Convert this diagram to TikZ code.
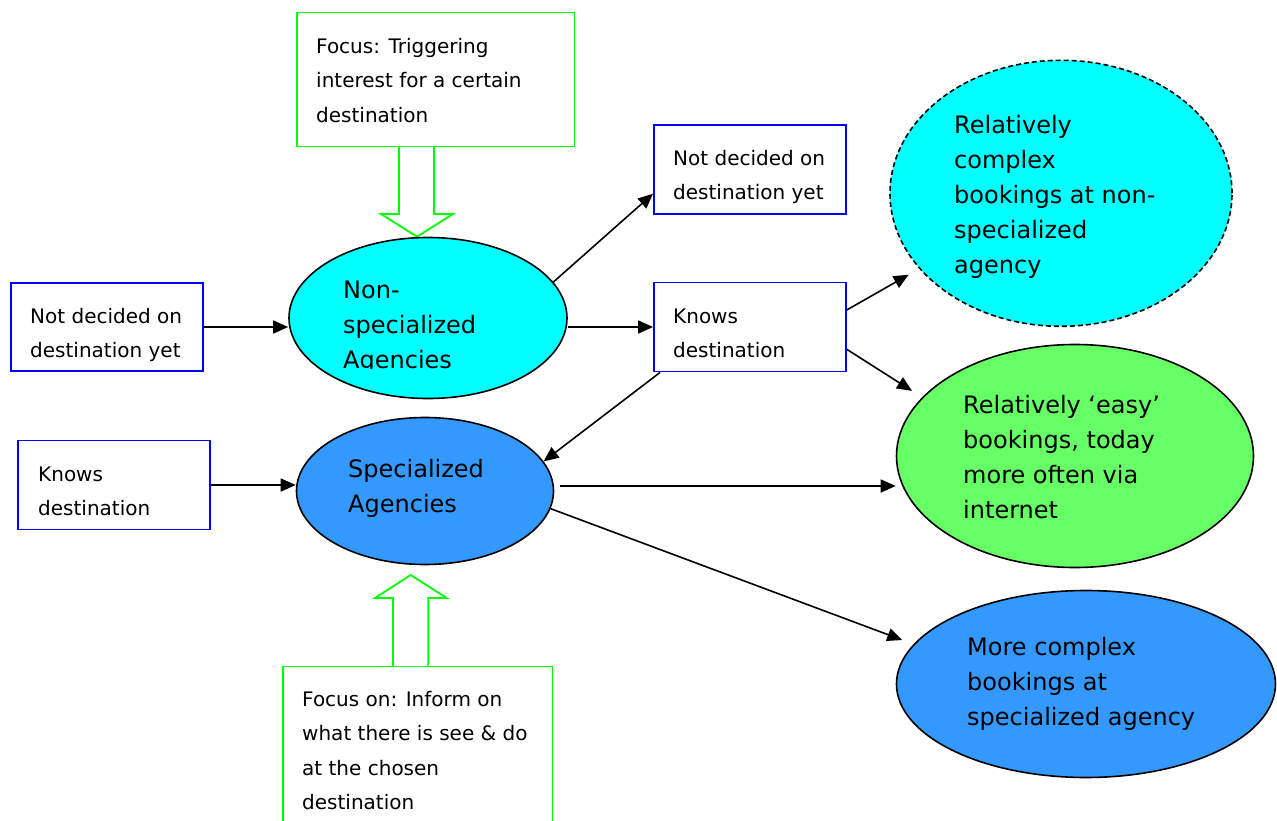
\documentclass[tikz,border=0pt]{standalone}
\usepackage{fontspec}
\setmainfont{DejaVu Sans}
\usetikzlibrary{arrows.meta,calc,shapes.geometric}
\definecolor{cy}{RGB}{0,255,255}
\definecolor{bl}{RGB}{51,153,255}
\definecolor{gr}{RGB}{102,255,102}
\definecolor{bbord}{RGB}{0,0,255}
\definecolor{gbord}{RGB}{0,255,0}
\begin{document}
\begin{tikzpicture}[x=1pt,y=-1pt,
 arr/.style={line width=1.6pt, -{Triangle[length=15pt,width=13pt]}},
 bbox/.style={draw=bbord, line width=1.8pt, rectangle, inner sep=0pt},
 gbox/.style={draw=gbord, line width=1.8pt, rectangle, inner sep=0pt},
 ell/.style={ellipse, draw=black, line width=1.6pt, inner sep=0pt},
 hollow/.style={draw=gbord, line width=1.8pt, fill=white, line join=miter},
 stxt/.style={anchor=north west, inner sep=0pt, align=left, font=\fontsize{20}{34.5}\selectfont},
 btxt/.style={anchor=north west, inner sep=0pt, align=left, font=\fontsize{24}{35}\selectfont},
]
\useasboundingbox[fill=white] (0,0) rectangle (1277,821);

% boxes
\node[bbox, minimum width=192pt, minimum height=88pt] (lnot) at (107,327) {};
\node[bbox, minimum width=192pt, minimum height=89pt] (knl) at (114,485) {};
\node[bbox, minimum width=192pt, minimum height=89pt] (trnot) at (750,169.5) {};
\node[bbox, minimum width=192pt, minimum height=89pt] (kn) at (750,327) {};
\node[gbox, minimum width=277.5pt, minimum height=134pt] (gtop) at (435.7,79.5) {};
\node[gbox, minimum width=269.5pt, minimum height=173pt] (gbot) at (417.7,753) {};

% hollow block arrows
\draw[hollow] (399,147) -- (399,214) -- (381,214) -- (417,236.7) -- (453,214) -- (434,214) -- (434,147);
\draw[hollow] (393,666) -- (393,598) -- (375,598) -- (410.7,575) -- (446.7,598) -- (428.3,598) -- (428.3,666);

% ellipses
\node[ell, fill=cy, minimum width=278pt, minimum height=161pt] (nonspec) at (428,318) {};
\node[ell, fill=bl, minimum width=257pt, minimum height=147pt] (spec) at (425,491) {};
\node[ell, fill=cy, dash pattern=on 5pt off 3pt, minimum width=342pt, minimum height=266pt] (dash) at (1061,193.3) {};
\node[ell, fill=gr, minimum width=357pt, minimum height=223pt] (green) at (1075,456) {};
\node[ell, fill=bl, minimum width=379pt, minimum height=187pt] (brell) at (1086,684) {};

% texts
\node[stxt] (tlnot) at (30,298.85) {\strut Not decided on\\destination yet};
\node[stxt] (ttrnot) at (673,140.85) {\strut Not decided on\\destination yet};
\node[stxt] (tkn) at (673,298.85) {\strut Knows\\destination};
\node[stxt] (tknl) at (38,456.85) {\strut Knows\\destination};
\node[stxt] (tgtop) at (316,28.85) {\strut Focus: Triggering\\interest for a certain\\destination};
\node[stxt] (tgbot) at (302,681.85) {\strut Focus on: Inform on\\what there is see \& do\\at the chosen\\destination};
\begin{scope}
\clip (330,260) rectangle (560,368.5);
\node[btxt] (tnonspec) at (343,273.5) {\strut Non-\\specialized\\Agencies};
\end{scope}
\node[btxt] (tspec) at (348,452.5) {\strut Specialized\\Agencies};
\node[btxt] (tdash) at (954,108.5) {\strut Relatively\\complex\\bookings at non-\\specialized\\agency};
\node[btxt] (tgreen) at (963,388.5) {\strut Relatively ‘easy’\\bookings, today\\more often via\\internet};
\node[btxt] (tbrell) at (967,630.5) {\strut More complex\\bookings at\\specialized agency};

% connectors
\draw[arr] (lnot.east) -- (lnot.east -| nonspec.west);
\draw[arr] (nonspec.16) -- (trnot.194);
\draw[arr] (kn.west -| nonspec.east) -- (kn.west);
\draw[arr] ($(kn.south west)+(7,0)$) -- (spec.14);
\draw[arr, shorten >=12pt] (kn.10) -- (dash.208);
\draw[arr, shorten >=12pt] (kn.-13) -- (green.159);
\draw[arr] (knl.east) -- (knl.east -| spec.west);
\draw[arr] ($(spec.east)+(6,-5)$) -- ($(spec.east -| green.west)+(0,-5)$);
\draw[arr, shorten >=12pt] (spec.-8) -- (brell.167);
\end{tikzpicture}
\end{document}
